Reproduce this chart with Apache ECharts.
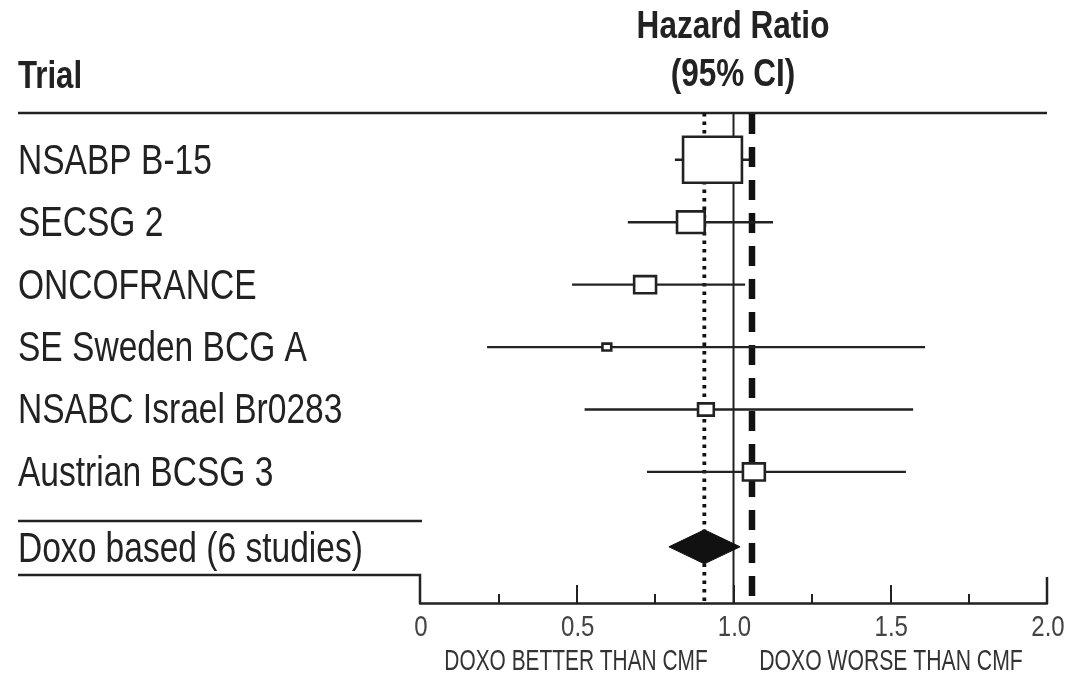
<!DOCTYPE html>
<html>
<head>
<meta charset="utf-8">
<script src="https://cdn.jsdelivr.net/npm/echarts@6/dist/echarts.min.js"></script>
<style>
html,body{margin:0;padding:0;background:#fff;}
#chart{width:1069px;height:677px;}
</style>
</head>
<body>
<div id="chart"></div>
<script>
// ---- data ----
const trials = ['NSABP B-15', 'SECSG 2', 'ONCOFRANCE', 'SE Sweden BCG A', 'NSABC Israel Br0283', 'Austrian BCSG 3'];
const hazardRatio = [0.933, 0.864, 0.718, 0.596, 0.912, 1.065];
const ciLower = [0.813, 0.663, 0.485, 0.214, 0.525, 0.724];
const ciUpper = [1.05, 1.126, 1.037, 1.611, 1.573, 1.55];
const weights = [62.9, 13.9, 8.7, 1.4, 4.5, 8.7];
const pooledLabel = 'Doxo based (6 studies)';
const pooledEstimate = [0.907, 0.794, 1.021]; // HR, lower, upper
const nullValue = 1.0;
const dashedValue = 1.059;
const xTickValues = [0, 0.5, 1.0, 1.5, 2.0];
const xTickLabels = ['0', '0.5', '1.0', '1.5', '2.0'];
const headerLeft = 'Trial';
const headerRight = ['Hazard Ratio', '(95% CI)'];
const footerLabels = ['DOXO BETTER THAN CMF', 'DOXO WORSE THAN CMF'];

// ---- layout ----
const FONT = '"Liberation Sans", Arial, Helvetica, sans-serif';
const INK = '#222';
const Y_MIN = -0.75, Y_MAX = 7.1;
const POOLED_ROW = 6.2;
const POOLED_TOP_RULE = 5.786, POOLED_BOTTOM_RULE = 6.651;
const LEFT_X = 18;
const ROW_FONT = '43px ' + FONT, ROW_SCALE = 0.78;

const chart = echarts.init(document.getElementById('chart'), null, {renderer: 'canvas'});

const rowData = trials.map((t, i) => [ciLower[i], ciUpper[i], hazardRatio[i], weights[i], i]);

function condensedText(text, x, y, font, sx, fill, align) {
  return {type: 'text', x: x, y: y, scaleX: sx,
    style: {text: text, x: 0, y: 0, font: font, fill: fill, align: align || 'left', verticalAlign: 'middle'}};
}

const option = {
  animation: false,
  backgroundColor: '#fff',
  grid: {left: 420, right: 22, top: 113, bottom: 74, containLabel: false},
  xAxis: {
    type: 'value', min: 0, max: 2, interval: 0.5,
    axisLine: {show: true, onZero: false, lineStyle: {color: INK, width: 2.5}},
    axisTick: {show: true, inside: true, length: 18, lineStyle: {color: INK, width: 2}},
    minorTick: {show: true, splitNumber: 2, length: 9, lineStyle: {color: INK, width: 2}},
    splitLine: {show: false},
    minorSplitLine: {show: false},
    axisLabel: {show: false}
  },
  yAxis: {type: 'value', min: Y_MIN, max: Y_MAX, inverse: true, show: false},
  graphic: [
    condensedText(headerLeft, LEFT_X, 78, 'bold 38px ' + FONT, 0.82, INK),
    condensedText(headerRight[0], 733, 28, 'bold 38px ' + FONT, 0.83, INK, 'center'),
    condensedText(headerRight[1], 733, 76, 'bold 38px ' + FONT, 0.83, INK, 'center'),
    condensedText(footerLabels[0], 576, 662, '29px ' + FONT, 0.72, '#333', 'center'),
    condensedText(footerLabels[1], 891, 662, '29px ' + FONT, 0.73, '#333', 'center')
  ],
  series: [
    // frame rules and tick labels
    {
      type: 'custom', name: 'frame', clip: false, z: 1,
      data: [[0]],
      renderItem: (params, api) => {
        const top = api.coord([2, Y_MIN]);
        const zeroTop = api.coord([0, POOLED_TOP_RULE]);
        const zeroBot = api.coord([0, POOLED_BOTTOM_RULE]);
        const zeroAxis = api.coord([0, Y_MAX]);
        const endAxis = api.coord([2, Y_MAX]);
        const s = {stroke: INK, lineWidth: 2.5};
        const children = [
          {type: 'line', shape: {x1: LEFT_X, y1: top[1], x2: top[0], y2: top[1]}, style: s},
          {type: 'line', shape: {x1: LEFT_X, y1: zeroTop[1], x2: zeroTop[0] + 2, y2: zeroTop[1]}, style: s},
          {type: 'polyline', shape: {points: [[LEFT_X, zeroBot[1]], [zeroBot[0], zeroBot[1]], [zeroAxis[0], zeroAxis[1]]]}, style: {stroke: INK, lineWidth: 2.5, fill: null}},
          {type: 'line', shape: {x1: endAxis[0], y1: endAxis[1], x2: endAxis[0], y2: endAxis[1] - 26}, style: s}
        ];
        xTickValues.forEach((v, i) => {
          const p = api.coord([v, Y_MAX]);
          children.push(condensedText(xTickLabels[i], p[0] + 1, p[1] + 25, '30px ' + FONT, 0.8, '#444', 'center'));
        });
        return {type: 'group', children};
      }
    },
    // vertical reference lines
    {
      type: 'custom', name: 'refs', clip: false, z: 2,
      data: [[nullValue, 0], [pooledEstimate[0], 1], [dashedValue, 2]],
      encode: {x: 0},
      renderItem: (params, api) => {
        const v = api.value(0), kind = api.value(1);
        const a = api.coord([v, Y_MIN]);
        const b = api.coord([v, Y_MAX]);
        let style;
        if (kind === 0) style = {stroke: INK, lineWidth: 2};
        else if (kind === 1) style = {stroke: '#111', lineWidth: 3.8, lineDash: [3.5, 5]};
        else style = {stroke: '#111', lineWidth: 6.5, lineDash: [20, 13]};
        return {type: 'line', shape: {x1: a[0], y1: a[1] + (kind === 2 ? 1 : 0), x2: b[0], y2: b[1] - (kind === 2 ? 3 : 0)}, style};
      }
    },
    // study rows
    {
      type: 'custom', name: 'studies', clip: false, z: 3,
      data: rowData,
      encode: {x: [0, 1, 2], y: 4},
      renderItem: (params, api) => {
        const row = api.value(4);
        const lo = api.coord([api.value(0), row]);
        const hi = api.coord([api.value(1), row]);
        const c = api.coord([api.value(2), row]);
        const h = Math.sqrt(api.value(3)) * 5.8;
        const w = h * 1.28;
        return {type: 'group', children: [
          {type: 'line', shape: {x1: lo[0], y1: lo[1], x2: hi[0], y2: hi[1]}, style: {stroke: INK, lineWidth: 2.4}},
          {type: 'rect', shape: {x: c[0] - w / 2, y: c[1] - h / 2, width: w, height: h}, style: {fill: '#fff', stroke: INK, lineWidth: 2.6}},
          condensedText(trials[row], LEFT_X, c[1] + 2, ROW_FONT, ROW_SCALE, INK)
        ]};
      }
    },
    // pooled diamond
    {
      type: 'custom', name: 'pooled', clip: false, z: 4,
      data: [[pooledEstimate[1], pooledEstimate[2], pooledEstimate[0], POOLED_ROW]],
      encode: {x: [0, 1, 2], y: 3},
      renderItem: (params, api) => {
        const row = api.value(3);
        const lo = api.coord([api.value(0), row]);
        const hi = api.coord([api.value(1), row]);
        const c = api.coord([api.value(2), row]);
        return {type: 'group', children: [
          {type: 'polygon', shape: {points: [[lo[0], lo[1]], [c[0], c[1] - 17], [hi[0], hi[1]], [c[0], c[1] + 17]]}, style: {fill: '#111', stroke: '#111', lineWidth: 1}},
          condensedText(pooledLabel, LEFT_X, c[1] + 3, ROW_FONT, ROW_SCALE, INK)
        ]};
      }
    }
  ]
};
chart.setOption(option);
</script>
</body>
</html>
